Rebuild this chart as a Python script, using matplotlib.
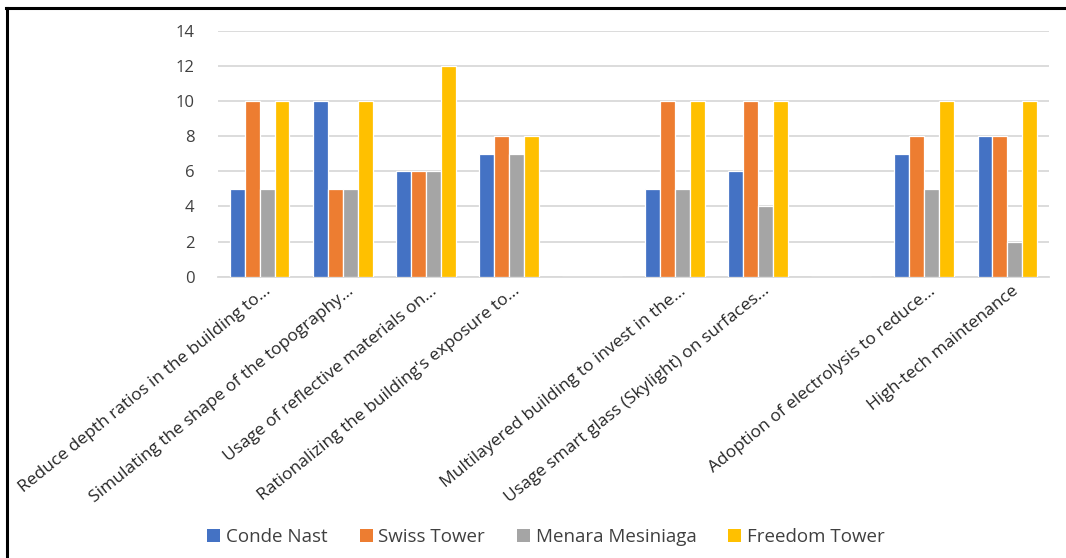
import matplotlib
matplotlib.use('Agg')
import matplotlib.pyplot as plt
import matplotlib.transforms as mtransforms
import numpy as np
from matplotlib.patches import Patch
from matplotlib.lines import Line2D

plt.rcParams['font.family'] = ['Open Sans', 'DejaVu Sans']

categories = ['Reduce depth ratios in the building to...',
              'Simulating the shape of the topography...',
              'Usage of reflective materials on...',
              "Rationalizing the building's exposure to...",
              '',
              'Multilayered building to invest in the...',
              'Usage smart glass (Skylight) on surfaces...',
              '',
              'Adoption of electrolysis to reduce...',
              'High-tech maintenance']
series_names = ['Conde Nast', 'Swiss Tower', 'Menara Mesiniaga', 'Freedom Tower']
conde_nast = [5, 10, 6, 7, 0, 5, 6, 0, 7, 8]
swiss_tower = [10, 5, 6, 8, 0, 10, 10, 0, 8, 8]
menara_mesiniaga = [5, 5, 6, 7, 0, 5, 4, 0, 5, 2]
freedom_tower = [10, 10, 12, 8, 0, 10, 10, 0, 10, 10]
colors = ['#4472C4', '#ED7D31', '#A5A5A5', '#FFC000']

all_series = [conde_nast, swiss_tower, menara_mesiniaga, freedom_tower]

fig = plt.figure(figsize=(10.66, 5.58), dpi=100)
ax = fig.add_axes([218/1066, 281.3/558, (1049-218)/1066, 246/558])

x = np.arange(len(categories))
step = 0.18
for i, vals in enumerate(all_series):
    ax.bar(x + (i - 1.5)*step, vals, width=step, color=colors[i],
           edgecolor='white', linewidth=0.9, zorder=3)

ax.set_xlim(-0.5, len(categories) - 0.5)
ax.set_ylim(0, 14)
ax.set_yticks(range(0, 15, 2))
ax.yaxis.grid(True, color='#D9D9D9', linewidth=1.3, zorder=0)
ax.set_axisbelow(True)
for s in ['top', 'right', 'left']:
    ax.spines[s].set_visible(False)
ax.spines['bottom'].set_color('#D9D9D9')
ax.spines['bottom'].set_linewidth(1.3)
ax.tick_params(axis='both', length=0)
ax.tick_params(axis='y', pad=17, labelsize=12, labelcolor='#404040')
ax.set_xticks(x)
ax.set_xticklabels(categories, rotation=39, ha='right', va='center',
                   rotation_mode='anchor', fontsize=12.5, color='#262626')
ax.tick_params(axis='x', pad=9)
# shift category labels a little to the right, like the original
shift = mtransforms.ScaledTranslation(9/100, 0, fig.dpi_scale_trans)
for lab in ax.get_xticklabels():
    lab.set_transform(lab.get_transform() + shift)

handles = [Patch(facecolor=c, edgecolor='none') for c in colors]
fig.legend(handles, series_names, loc='center', ncol=4, frameon=False,
           bbox_to_anchor=(546/1066, 21/558), fontsize=13.5,
           handlelength=0.7, handleheight=0.7, handletextpad=0.3,
           columnspacing=1.7, labelcolor='#404040')

# frame lines of the screenshot
fig.add_artist(Line2D([7/1066, 7/1066], [0, 1 - 8/558], color='black', linewidth=2.2))
fig.add_artist(Line2D([6/1066, 1], [1 - 8/558, 1 - 8/558], color='black', linewidth=2.2))

fig.savefig('out.png', dpi=100)
